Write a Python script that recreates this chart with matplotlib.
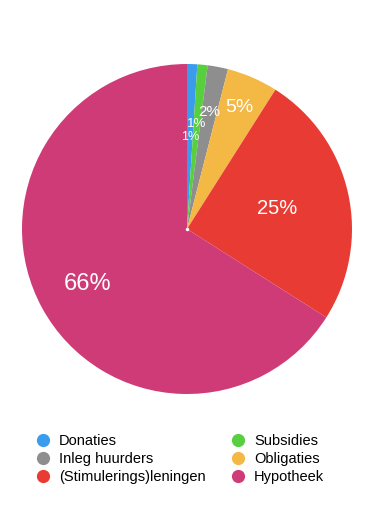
import matplotlib
matplotlib.use("Agg")
import matplotlib.pyplot as plt
from matplotlib.lines import Line2D
import numpy as np

plt.rcParams['font.family'] = ['Liberation Sans', 'DejaVu Sans']

categories = ["Donaties", "Subsidies", "Inleg huurders", "Obligaties",
              "(Stimulerings)leningen", "Hypotheek"]
values = [1, 1, 2, 5, 25, 66]
colors = ["#3b9cee", "#58cf3e", "#8e8e8e", "#f4b844", "#e83b33", "#cf3b76"]
label_dist = [0.56, 0.64, 0.72, 0.80, 0.56, 0.69]
label_size = [9, 9.5, 11, 14, 14.5, 17]
legend_order = [0, 2, 4, 1, 3, 5]

W, H = 382, 524
fig = plt.figure(figsize=(W / 100, H / 100), dpi=100)
cx, cy, r = 187, 229, 165
ax = fig.add_axes([(cx - r) / W, (H - cy - r) / H, 2 * r / W, 2 * r / H])

wedges, texts, autotexts = ax.pie(values, colors=colors, startangle=90,
                                  counterclock=False, radius=1,
                                  autopct='%1.0f%%',
                                  wedgeprops=dict(linewidth=0))
for w, t, d, s in zip(wedges, autotexts, label_dist, label_size):
    ang = np.deg2rad((w.theta1 + w.theta2) / 2)
    t.set_position((d * np.cos(ang), d * np.sin(ang)))
    t.set_color("white")
    t.set_fontsize(s)
    t.set_ha("center")
    t.set_va("center")
ax.plot([0], [0], marker='o', markersize=2.5, color='white',
        markeredgewidth=0)
ax.set_xlim(-1, 1)
ax.set_ylim(-1, 1)
ax.set_aspect("equal")
ax.axis("off")

handles = [Line2D([], [], marker='o', linestyle='none', markersize=9.5,
                  markerfacecolor=colors[i], markeredgewidth=0,
                  label=categories[i]) for i in legend_order]
fig.legend(handles=handles, ncol=2, loc='upper left',
           bbox_to_anchor=(36 / W, 1 - 434 / H), frameon=False,
           fontsize=10.5, handlelength=1.0, handletextpad=0.58,
           labelspacing=0.28, columnspacing=1.75, borderpad=0,
           borderaxespad=0)

fig.savefig("out.png", dpi=100, facecolor="white")
